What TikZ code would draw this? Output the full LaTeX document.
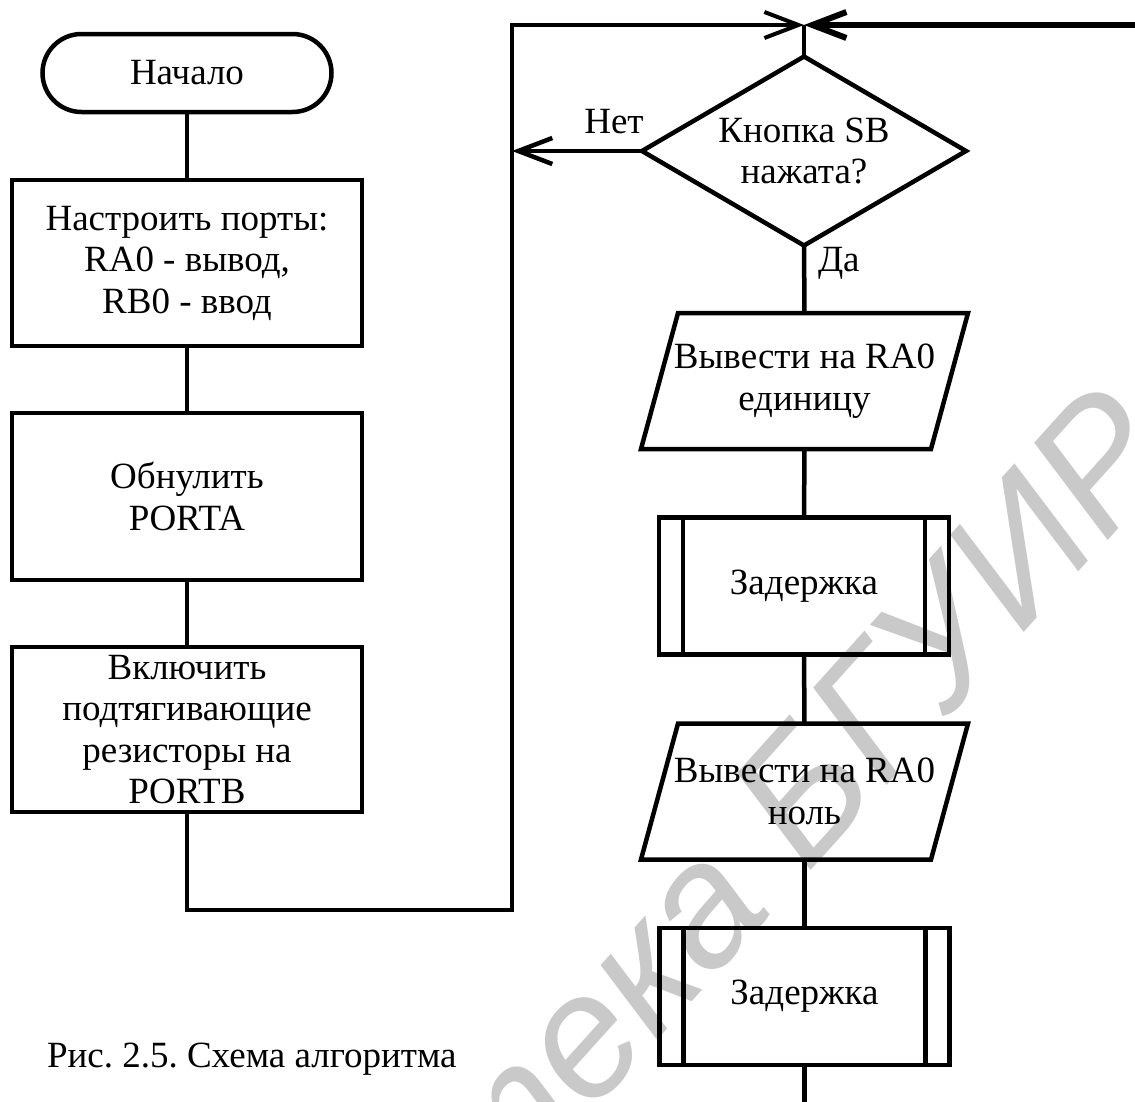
\documentclass[tikz,border=0pt]{standalone}
\usepackage{fontspec}
\setmainfont{Liberation Serif}
\newfontfamily\wmfont{Liberation Sans}
\usetikzlibrary{arrows.meta,shapes.geometric}
\definecolor{wmgray}{gray}{0.79}
\frenchspacing

\begin{document}
\begin{tikzpicture}[x=1pt,y=-1pt,
  every node/.style={font=\fontsize{37}{41.5}\selectfont, inner sep=0pt, outer sep=0pt},
  flow/.style={line width=4.5pt},
  loop/.style={line width=4pt},
  tip/.style={-{Straight Barb[length=34pt,width=26pt]}},
  term/.style={draw, line width=4.5pt, rounded corners=39pt, minimum width=289pt, minimum height=78pt},
  block/.style={draw, line width=4.5pt, minimum width=350pt, align=center},
  decision/.style={diamond, draw, line width=4.5pt, aspect=1.7, minimum width=324pt, minimum height=189pt, align=center},
  iobox/.style={minimum width=290pt, minimum height=136pt, align=center},
  subproc/.style={draw, line width=4.5pt, minimum width=290pt, minimum height=137pt, align=center},
  wm/.style={text=wmgray, font=\wmfont\itshape\fontsize{174}{174}\selectfont}
]
\useasboundingbox (0,0) rectangle (1135,1101);
\clip (0,0) rectangle (1135,1101);

% faint library watermark behind the chart
\node[wm, rotate=48, anchor=base east] (wmark) at (1182,458) {Библиотека БГУИР};

% left column: initialisation
\node[term] (start) at (187,73) {Начало};
\node[block, minimum height=166pt] (b1) at (187,263) {Настроить порты:\\RA0 - вывод,\\RB0 - ввод};
\node[block, minimum height=167pt] (b2) at (187,496.5) {Обнулить\\PORTA};
\node[block, minimum height=165pt] (b3) at (187,729.5) {Включить\\подтягивающие\\резисторы на\\PORTB};

% right column: main loop
\coordinate (j) at (804,25);
\coordinate (lt) at (512,25);
\coordinate (lr) at (512,910);
\coordinate (re) at (1140,25);
\node[decision] (q) at (804,151) {Кнопка SB\\нажата?};
\node (no) at (614,122) {Нет};
\node[anchor=west] (yes) at (818,263) {Да};
\node[iobox] (o1) at (804.5,381) {Вывести на RA0\\единицу};
\node[subproc] (d1) at (804,586) {Задержка};
\node[iobox] (o2) at (804.5,791.5) {Вывести на RA0\\ноль};
\node[subproc] (d2) at (804.5,996.5) {Задержка};
\coordinate (cont) at (804.5,1110);

% output blocks drawn as parallelograms
\foreach \n in {o1,o2}
  \draw[flow] ([xshift=18.5pt]\n.north west) -- ([xshift=18.5pt]\n.north east)
    -- ([xshift=-18.5pt]\n.south east) -- ([xshift=-18.5pt]\n.south west) -- cycle;
% side bars of the subroutine blocks
\foreach \n in {d1,d2} {
  \draw[flow] ([xshift=24pt]\n.north west) -- ([xshift=24pt]\n.south west);
  \draw[flow] ([xshift=-24pt]\n.north east) -- ([xshift=-24pt]\n.south east);
}

% connectors
\draw[flow] (start.south) -- (b1.north);
\draw[flow] (b1.south) -- (b2.north);
\draw[flow] (b2.south) -- (b3.north);
\draw[loop, tip] (b3.south) |- (lr) -- (lt) -- (j);
\draw[line width=6pt, tip] (re) -- (j);
\draw[flow] (q.north) -- (j);
\draw[flow, tip] (q.west) -- (q.west -| lt);
\draw[flow] (q.south) -- (o1.north);
\draw[flow] (o1.south) -- (d1.north);
\draw[flow] (d1.south) -- (o2.north);
\draw[flow] (o2.south) -- (d2.north);
\draw[flow] (d2.south) -- (cont);

% caption
\node[anchor=base west] (cap) at (47,1067) {Рис. 2.5. Схема алгоритма};
\end{tikzpicture}
\end{document}
